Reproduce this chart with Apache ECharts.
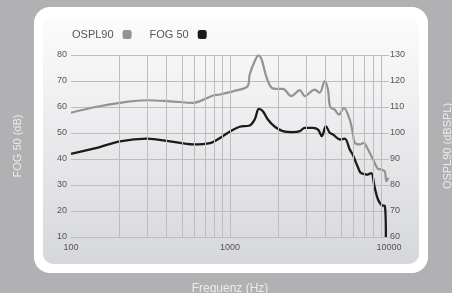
<!DOCTYPE html>
<html>
<head>
<meta charset="utf-8">
<script src="https://cdn.jsdelivr.net/npm/echarts@6/dist/echarts.min.js"></script>
<style>
  html, body { margin: 0; padding: 0; background: #b1b1b4; }
  #chart { width: 452px; height: 293px; }
</style>
</head>
<body>
<div id="chart"></div>
<script>
// FOG 50 curve (left axis, dB)
const fogFreq = [100, 150, 203, 300, 419, 586, 748, 886, 1000, 1150, 1330, 1430, 1520, 1610, 1730, 1915, 2150, 2490, 2750, 2950, 3330, 3580, 3780, 4010, 4240, 4450, 4920, 5270, 5660, 5910, 6340, 6620, 7000, 7300, 7730, 8100, 8530, 9100, 9400, 9560]
const fogVal = [42, 44.5, 46.8, 47.8, 46.8, 45.6, 46.1, 48.5, 50.6, 52.4, 52.9, 55.2, 59.3, 58.4, 55.2, 52.4, 50.7, 50.3, 50.7, 52, 52, 51.3, 48.8, 52.6, 50.1, 49.4, 47.5, 47.8, 43.7, 41.7, 37.2, 34.7, 34.2, 34, 34.6, 29.5, 24.4, 22.1, 22, 10]

// OSPL90 curve (right axis, dBSPL)
const osplFreq = [100, 145, 203, 300, 418, 587, 645, 783, 863, 1000, 1050, 1290, 1330, 1430, 1510, 1580, 1690, 1830, 2000, 2150, 2430, 2750, 2950, 3410, 3660, 3950, 4130, 4270, 4550, 4840, 5200, 5660, 5920, 6095, 6550, 6940, 7200, 7950, 8520, 8900, 9400, 9630, 9900]
const osplVal = [107.8, 110.1, 111.6, 112.6, 112.2, 111.6, 112.2, 114.4, 114.8, 115.7, 116.1, 118, 122.5, 127.6, 129.8, 128.3, 121.8, 117.4, 117, 117, 114.2, 116.5, 114.2, 116.7, 115.5, 120, 116.7, 110, 109, 107.1, 109.7, 105.2, 100, 96.2, 95.6, 96.2, 94.9, 89.8, 86.2, 86, 85.3, 81.5, 82.8]

// vertical grid lines (Hz)
const gridFreqs = [200, 300, 400, 500, 600, 700, 800, 900, 1000, 2000, 3000, 4000, 5000, 6000, 7000, 8000, 9000]

const labelFont = { color: "#555", fontSize: 9, fontFamily: "Liberation Sans, Arial, sans-serif" }
const nameFont = { color: "#ececec", fontSize: 11, fontFamily: "Liberation Sans, Arial, sans-serif" }

const chart = echarts.init(document.getElementById("chart"))

chart.setOption({
    backgroundColor: "#b1b1b4",
    animation: false,
    graphic: [
        {
            type: "rect",
            z: -10,
            shape: { x: 34, y: 7, width: 394, height: 266, r: 16 },
            style: { fill: "#ffffff" }
        },
        {
            type: "rect",
            z: -9,
            shape: { x: 43, y: 18, width: 376, height: 246, r: 10 },
            style: {
                fill: new echarts.graphic.LinearGradient(0, 0, 0, 1, [
                    { offset: 0, color: "#fcfcfc" },
                    { offset: 1, color: "#d6d7db" }
                ])
            }
        }
    ],
    legend: {
        left: 72,
        top: 29,
        padding: 0,
        align: "right",
        icon: "roundRect",
        itemWidth: 9,
        itemHeight: 9,
        itemGap: 18,
        textStyle: {
            color: "#555",
            fontSize: 11,
            fontFamily: "Liberation Sans, Arial, sans-serif",
            padding: [0, 4, 0, 0]
        },
        data: ["OSPL90", "FOG 50"]
    },
    grid: { left: 71, right: 63, top: 55, bottom: 56, outerBoundsMode: "none", containLabel: false },
    xAxis: {
        type: "log",
        logBase: 10,
        min: 100,
        max: 10000,
        name: "Frequenz (Hz)",
        nameLocation: "middle",
        nameGap: 46,
        nameTextStyle: Object.assign({}, nameFont, { fontSize: 12 }),
        axisLine: { show: false },
        axisTick: { show: false },
        splitLine: { show: false },
        axisLabel: Object.assign({}, labelFont, {
            margin: 6,
            formatter: (v) => String(Math.round(v))
        })
    },
    yAxis: [
        {
            type: "value",
            min: 10,
            max: 80,
            interval: 10,
            name: "FOG 50 (dB)",
            nameLocation: "middle",
            nameGap: 48,
            nameTextStyle: nameFont,
            axisLine: { show: false },
            axisTick: { show: false },
            axisLabel: Object.assign({}, labelFont, { margin: 4 }),
            splitLine: { lineStyle: { color: "#bdbdc0", width: 1 } }
        },
        {
            type: "value",
            min: 60,
            max: 130,
            interval: 10,
            name: "OSPL90 (dBSPL)",
            nameLocation: "middle",
            nameGap: 53,
            nameTextStyle: nameFont,
            axisLine: { show: false },
            axisTick: { show: false },
            axisLabel: Object.assign({}, labelFont, { margin: 1 }),
            splitLine: { show: false }
        }
    ],
    series: [
        {
            name: "OSPL90",
            type: "line",
            yAxisIndex: 1,
            smooth: 0.35,
            showSymbol: false,
            color: "#939393",
            lineStyle: { width: 2.2, color: "#939393" },
            data: osplFreq.map((f, i) => [f, osplVal[i]]),
            z: 3
        },
        {
            name: "FOG 50",
            type: "line",
            yAxisIndex: 0,
            smooth: 0.35,
            showSymbol: false,
            color: "#1b1b1b",
            lineStyle: { width: 2.3, color: "#1b1b1b" },
            data: fogFreq.map((f, i) => [f, fogVal[i]]),
            z: 4,
            markLine: {
                silent: true,
                symbol: "none",
                label: { show: false },
                lineStyle: { type: "solid", color: "#bdbdc0", width: 1 },
                data: gridFreqs.map((f) => ({ xAxis: f }))
            }
        }
    ]
})
</script>
</body>
</html>
